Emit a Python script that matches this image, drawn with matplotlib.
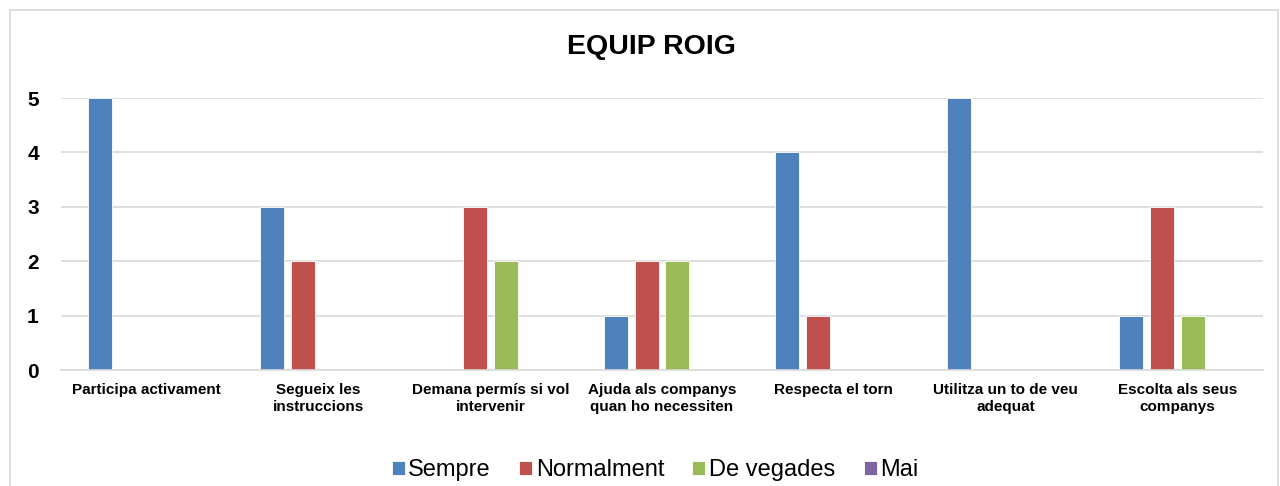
import matplotlib.pyplot as plt
import numpy as np
from matplotlib.patches import Rectangle

plt.rcParams['font.family'] = ['Liberation Sans', 'DejaVu Sans']

categories = ['Participa activament', 'Segueix les\ninstruccions',
              'Demana permís si vol\nintervenir', 'Ajuda als companys\nquan ho necessiten',
              'Respecta el torn', 'Utilitza un to de veu\nadequat', 'Escolta als seus\ncompanys']
series = ['Sempre', 'Normalment', 'De vegades', 'Mai']
sempre = [5, 3, 0, 1, 4, 5, 1]
normalment = [0, 2, 3, 2, 1, 0, 3]
de_vegades = [0, 0, 2, 2, 0, 0, 1]
mai = [0, 0, 0, 0, 0, 0, 0]
colors = ['#4F81BD', '#C0504D', '#9BBB59', '#8064A2']

fig = plt.figure(figsize=(12.8, 4.86), dpi=100)
ax = fig.add_axes([61/1280, 116/486, (1263-61)/1280, (370-98)/486])

# chart border
fig.patches.append(Rectangle((10/1280, -0.1), 1268/1280, 1.1 - 10/486,
                             transform=fig.transFigure, fill=False,
                             edgecolor='#D9D9D9', linewidth=1.2))

x = np.arange(len(categories))
pitch = 31/172
width = 24/172
for i, (vals, name) in enumerate(zip([sempre, normalment, de_vegades, mai], series)):
    ax.bar(x + (i - 1.5)*pitch, vals, width, color=colors[i], label=name,
           edgecolor='white', linewidth=0.6, zorder=2)

ax.set_xlim(-0.5, len(categories) - 0.5)
ax.set_ylim(0, 5)
ax.set_yticks(range(6))
ax.yaxis.grid(True, color='#D9D9D9', linewidth=1.2, zorder=0)
for s in ['top', 'right', 'left']:
    ax.spines[s].set_visible(False)
ax.spines['bottom'].set_color('#D9D9D9')
ax.spines['bottom'].set_linewidth(1.2)
ax.tick_params(axis='y', length=0, pad=16, labelsize=15)
ax.tick_params(axis='x', length=0, pad=9, labelsize=11)
ax.set_xticks(x)
ax.set_xticklabels(categories, fontweight='bold', linespacing=1.3)
for lbl in ax.get_yticklabels():
    lbl.set_fontweight('bold')

fig.text(651/1280, 1 - 47/486, 'EQUIP ROIG', ha='center', va='center',
         fontsize=20.5, fontweight='bold')

fig.legend(loc='center', bbox_to_anchor=(655/1280, 1 - 470/486), ncol=4,
           frameon=False, fontsize=17, handlelength=0.55, handleheight=0.55,
           handletextpad=0.15, columnspacing=1.2)

fig.savefig('out.png', dpi=100)
